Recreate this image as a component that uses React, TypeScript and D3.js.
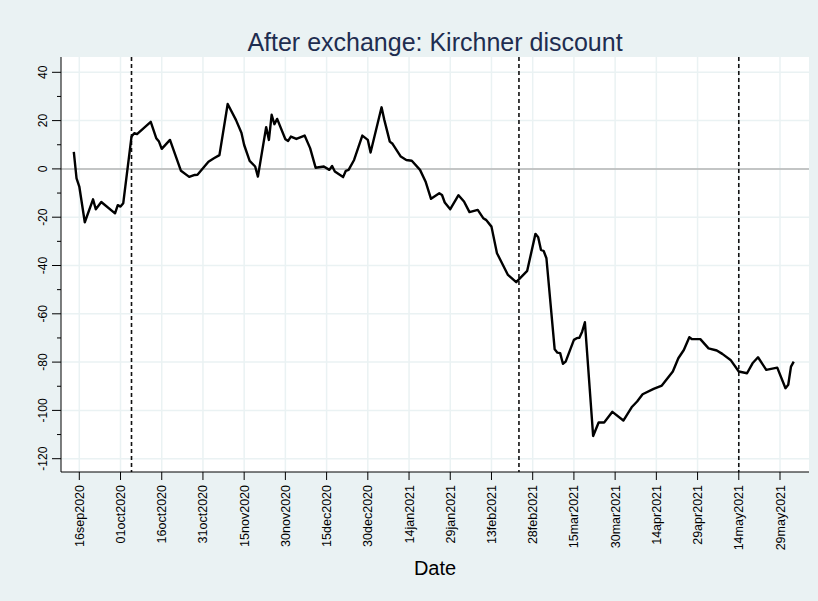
import React from "react";
import * as d3 from "d3";

const dates: string[] = [
  "2020-09-14","2020-09-15","2020-09-16","2020-09-18","2020-09-21","2020-09-22","2020-09-24","2020-09-29","2020-09-30",
  "2020-10-01","2020-10-02","2020-10-05","2020-10-06","2020-10-07","2020-10-12","2020-10-14","2020-10-15","2020-10-16",
  "2020-10-19","2020-10-23","2020-10-26","2020-10-28","2020-10-29","2020-11-02","2020-11-04","2020-11-06","2020-11-09",
  "2020-11-12","2020-11-14","2020-11-15","2020-11-17","2020-11-19","2020-11-20","2020-11-23","2020-11-24","2020-11-25",
  "2020-11-26","2020-11-27","2020-11-30","2020-12-01","2020-12-02","2020-12-04","2020-12-07","2020-12-09","2020-12-11",
  "2020-12-14","2020-12-16","2020-12-17","2020-12-18","2020-12-21","2020-12-22","2020-12-23","2020-12-25","2020-12-28",
  "2020-12-30","2020-12-31","2021-01-04","2021-01-05","2021-01-07","2021-01-08","2021-01-11","2021-01-13","2021-01-15",
  "2021-01-18","2021-01-20","2021-01-22","2021-01-25","2021-01-26","2021-01-27","2021-01-29","2021-02-01","2021-02-03",
  "2021-02-05","2021-02-08","2021-02-10","2021-02-11","2021-02-13","2021-02-15","2021-02-19","2021-02-22","2021-02-26",
  "2021-03-01","2021-03-02","2021-03-03","2021-03-04","2021-03-05","2021-03-08","2021-03-09","2021-03-10","2021-03-11",
  "2021-03-12","2021-03-15","2021-03-16","2021-03-17","2021-03-18","2021-03-19","2021-03-22","2021-03-24","2021-03-26",
  "2021-03-29","2021-04-02","2021-04-05","2021-04-07","2021-04-09","2021-04-13","2021-04-16","2021-04-20","2021-04-22",
  "2021-04-24","2021-04-26","2021-04-27","2021-04-30","2021-05-03","2021-05-06","2021-05-08","2021-05-11","2021-05-14",
  "2021-05-17","2021-05-19","2021-05-21","2021-05-24","2021-05-28","2021-05-31","2021-06-01","2021-06-02","2021-06-03",
];

const discount: number[] = [
  7.0,-3.9,-7.3,-22.1,-12.6,-16.7,-13.7,-18.4,-15.0,
  -15.6,-14.2,13.4,14.8,14.4,19.5,12.7,11.3,8.3,
  12.0,-0.8,-3.3,-2.5,-2.4,3.0,4.4,5.7,26.9,
  20.3,15.0,9.9,3.3,1.0,-3.2,17.3,12.0,22.4,
  18.5,20.7,12.3,11.6,13.4,12.4,13.8,8.6,0.5,
  1.0,-0.4,1.2,-1.1,-3.4,-0.8,-0.4,3.7,13.8,
  12.0,6.8,25.5,20.3,11.3,10.4,5.1,3.7,3.4,
  -0.4,-5.2,-12.4,-10.1,-10.8,-13.9,-16.7,-10.9,-13.5,
  -17.9,-17.0,-20.4,-21.1,-23.9,-34.9,-43.9,-46.9,-42.2,
  -26.9,-28.3,-33.5,-34.0,-37.0,-74.7,-76.1,-76.3,-80.7,
  -79.8,-70.8,-70.1,-69.9,-67.4,-63.5,-110.6,-105.0,-105.0,
  -100.6,-104.2,-98.7,-96.3,-93.3,-91.1,-89.7,-83.9,-78.4,
  -75.0,-69.7,-70.5,-70.5,-74.3,-75.2,-76.6,-79.1,-83.9,
  -84.6,-80.5,-78.0,-83.2,-82.3,-90.8,-89.4,-81.9,-79.8,
];

const xTickLabels: string[] = [
  "16sep2020","01oct2020","16oct2020","31oct2020","15nov2020","30nov2020","15dec2020","30dec2020","14jan2021",
  "29jan2021","13feb2021","28feb2021","15mar2021","30mar2021","14apr2021","29apr2021","14may2021","29may2021",
];
const yMajorTicks: number[] = [40, 20, 0, -20, -40, -60, -80, -100, -120];
const yMinorTicks: number[] = [30, 10, -10, -30, -50, -70, -90, -110];
const eventDates: string[] = ["2020-10-05", "2021-02-23", "2021-05-14"];

const title = "After exchange: Kirchner discount";
const xTitle = "Date";

const monthMap: Record<string, number> = {
  jan: 0, feb: 1, mar: 2, apr: 3, may: 4, jun: 5, jul: 6, aug: 7, sep: 8, oct: 9, nov: 10, dec: 11,
};
const parseTick = (s: string) =>
  new Date(+s.slice(5), monthMap[s.slice(2, 5)], +s.slice(0, 2));
const parseISO = d3.timeParse("%Y-%m-%d");

export default function App() {
  const W = 818, H = 601;
  const left = 61, right = 809, top = 57, bottom = 472;
  const bg = "#EAF2F3";

  const x = d3
    .scaleTime()
    .domain([parseTick(xTickLabels[0]), parseTick(xTickLabels[xTickLabels.length - 1])])
    .range([79.3, 780]);
  const y = d3.scaleLinear().domain([40, -120]).range([72.3, 458.7]);

  const data = dates.map((d, i) => ({ date: parseISO(d) as Date, v: discount[i] }));
  const line = d3
    .line<{ date: Date; v: number }>()
    .x((d) => x(d.date))
    .y((d) => y(d.v));

  const font = "'Liberation Sans', Arial, Helvetica, sans-serif";

  return (
    <svg
      width={W}
      height={H}
      style={{ position: "absolute", left: 0, top: 0, display: "block" }}
      fontFamily={font}
    >
      <rect x={0} y={0} width={W} height={H} fill={bg} />
      <rect x={left} y={top} width={right - left} height={bottom - top} fill="#ffffff" />

      {yMajorTicks.map((t) => (
        <line key={"gy" + t} x1={left} x2={right} y1={y(t)} y2={y(t)} stroke={bg} strokeWidth={1.5} />
      ))}
      {xTickLabels.map((t) => (
        <line key={"gx" + t} x1={x(parseTick(t))} x2={x(parseTick(t))} y1={top} y2={bottom} stroke={bg} strokeWidth={1.5} />
      ))}

      <line x1={left} x2={right} y1={y(0)} y2={y(0)} stroke="#b4b4b4" strokeWidth={1.5} />

      {eventDates.map((d) => {
        const xx = x(parseISO(d) as Date);
        return (
          <line key={d} x1={xx} x2={xx} y1={top} y2={bottom} stroke="#111" strokeWidth={1.6} strokeDasharray="4,3" />
        );
      })}

      <path d={line(data) || ""} fill="none" stroke="#000" strokeWidth={2.4} strokeLinejoin="round" />

      <line x1={left} x2={left} y1={top} y2={bottom} stroke="#000" strokeWidth={1} />
      <line x1={left} x2={right} y1={bottom} y2={bottom} stroke="#000" strokeWidth={1} />

      {yMajorTicks.map((t) => (
        <g key={"yt" + t}>
          <line x1={left - 9} x2={left} y1={y(t)} y2={y(t)} stroke="#000" strokeWidth={1} />
          <text
            transform={`translate(${47},${y(t)}) rotate(-90)`}
            textAnchor="middle"
            fontSize={12}
            fill="#000"
          >
            {t}
          </text>
        </g>
      ))}
      {yMinorTicks.map((t) => (
        <line key={"ym" + t} x1={left - 4} x2={left} y1={y(t)} y2={y(t)} stroke="#000" strokeWidth={1} />
      ))}

      {xTickLabels.map((t) => {
        const xx = x(parseTick(t));
        return (
          <g key={"xt" + t}>
            <line x1={xx} x2={xx} y1={bottom} y2={bottom + 8} stroke="#000" strokeWidth={1} />
            <text
              transform={`translate(${xx + 4.5},${bottom + 13}) rotate(-90)`}
              textAnchor="end"
              fontSize={12.5}
              fill="#000"
            >
              {t}
            </text>
          </g>
        );
      })}

      <text x={435} y={575} textAnchor="middle" fontSize={20} fill="#000">
        {xTitle}
      </text>
      <text x={435} y={51} textAnchor="middle" fontSize={25} fill="#1e2d50">
        {title}
      </text>
    </svg>
  );
}
